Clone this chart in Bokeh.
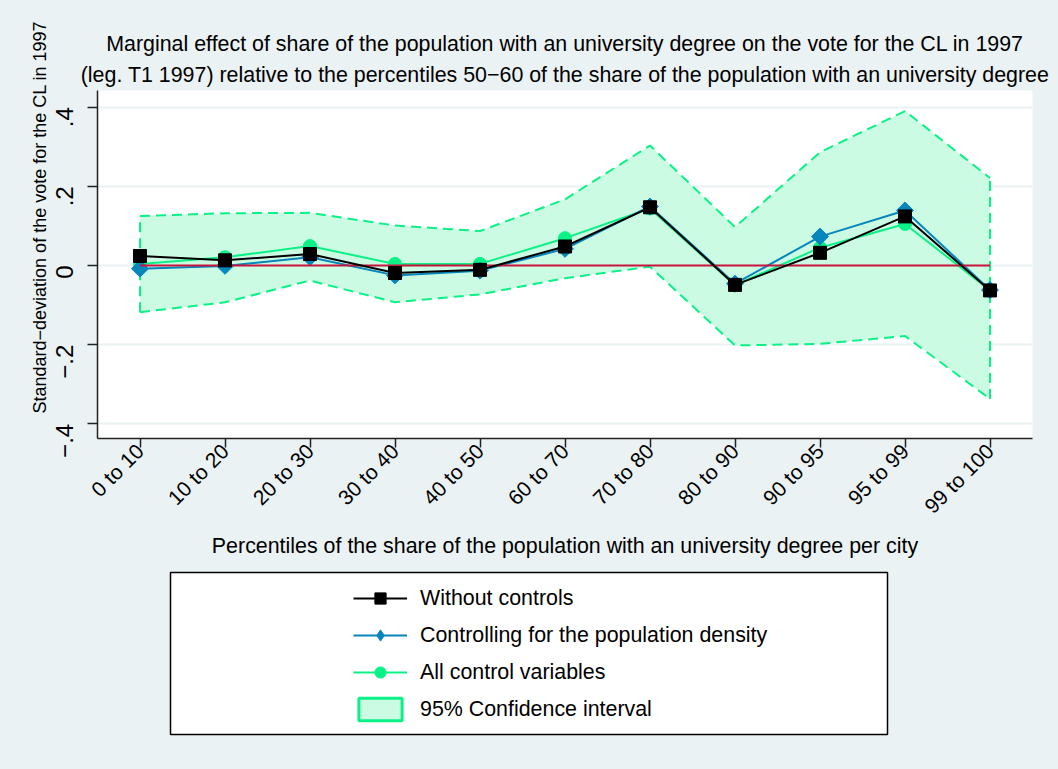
import numpy as np
from bokeh.plotting import figure
from bokeh.models import ColumnDataSource, FixedTicker, Legend, LegendItem, Title
from bokeh.layouts import column
from bokeh.embed import file_html
from bokeh.resources import INLINE

# ---------------- data ----------------
categories = ["0 to 10", "10 to 20", "20 to 30", "30 to 40", "40 to 50", "60 to 70",
              "70 to 80", "80 to 90", "90 to 95", "95 to 99", "99 to 100"]
without_controls = [0.024, 0.013, 0.029, -0.019, -0.011, 0.048, 0.147, -0.049, 0.032, 0.124, -0.063]
density_control = [-0.008, -0.001, 0.021, -0.025, -0.013, 0.042, 0.149, -0.046, 0.073, 0.139, -0.062]
all_controls = [0.004, 0.021, 0.049, 0.004, 0.004, 0.069, 0.144, -0.050, 0.045, 0.105, -0.063]
ci_upper = [0.125, 0.132, 0.133, 0.101, 0.087, 0.167, 0.303, 0.097, 0.286, 0.390, 0.221]
ci_lower = [-0.118, -0.093, -0.038, -0.093, -0.073, -0.032, -0.003, -0.202, -0.198, -0.178, -0.337]
y_ticks = [-0.4, -0.2, 0.0, 0.2, 0.4]
y_tick_labels = ["\u2212.4", "\u2212.2", "0", ".2", ".4"]
reference_value = 0.0

title_line1 = "Marginal effect of share of the population with an university degree on the vote for the CL in 1997"
title_line2 = "(leg. T1 1997) relative to the percentiles 50\u221260 of the share of the population with an university degree"
x_label = "Percentiles of the share of the population with an university degree per city"
y_label = "Standard\u2212deviation of the vote for the CL in 1997"
legend_labels = ["Without controls", "Controlling for the population density",
                 "All control variables", "95% Confidence interval"]

# ---------------- styles ----------------
BG = "#EAF2F3"
FONT = "Liberation Sans"
FS = "21.4px"
C_BLACK = "#000000"
C_BLUE = "#0786BC"
C_GREEN = "#0AF286"
C_FILL = "#CCFBE3"
C_RED = "#C8143C"

x = list(range(1, len(categories) + 1))
src = ColumnDataSource(dict(x=x, wc=without_controls, dc=density_control, ac=all_controls,
                            up=ci_upper, lo=ci_lower))
ref_src = ColumnDataSource(dict(x=[x[0], x[-1]], y=[reference_value, reference_value]))

p = figure(width=1058, height=560, x_range=(0.5, 11.5), y_range=(-0.437, 0.442),
           output_backend="svg", toolbar_location=None,
           min_border_left=97, min_border_right=26, min_border_top=90, min_border_bottom=122)
p.frame_align = False
p.background_fill_color = "white"
p.border_fill_color = BG
p.outline_line_color = None

p.title.text = title_line1
p.title.align = "center"
p.title.text_font = FONT
p.title.text_font_size = FS
p.title.text_font_style = "normal"
p.title.text_color = "black"
p.title.standoff = 2
t2 = Title(text=title_line2, align="center", text_font=FONT, text_font_size=FS,
           text_font_style="normal", text_color="black", standoff=8)
p.add_layout(t2, "above")

# CI band
p.varea(x="x", y1="lo", y2="up", source=src, fill_color=C_FILL)
p.line(x="x", y="up", source=src, line_color=C_GREEN, line_width=2, line_dash="10 6")
p.line(x="x", y="lo", source=src, line_color=C_GREEN, line_width=2, line_dash="10 6")
edge_src = ColumnDataSource(dict(xs=[[x[0], x[0]], [x[-1], x[-1]]],
                                 ys=[[ci_lower[0], ci_upper[0]], [ci_lower[-1], ci_upper[-1]]]))
p.multi_line(xs="xs", ys="ys", source=edge_src, line_color=C_GREEN, line_width=2, line_dash="10 6")

# series
p.line(x="x", y="ac", source=src, line_color=C_GREEN, line_width=2)
p.scatter(x="x", y="ac", source=src, marker="circle", size=13, fill_color=C_GREEN, line_color=C_GREEN)
p.line(x="x", y="dc", source=src, line_color=C_BLUE, line_width=2)
p.scatter(x="x", y="dc", source=src, marker="square", angle=np.pi / 4, size=12,
          fill_color=C_BLUE, line_color=C_BLUE)
p.line(x="x", y="y", source=ref_src, line_color=C_RED, line_width=2)
p.line(x="x", y="wc", source=src, line_color=C_BLACK, line_width=2)
p.scatter(x="x", y="wc", source=src, marker="square", size=13, fill_color=C_BLACK, line_color=C_BLACK)

# axes
p.xaxis.ticker = FixedTicker(ticks=x)
p.xaxis.major_label_overrides = {int(i): c for i, c in zip(x, categories)}
p.xaxis.major_label_orientation = np.pi / 4
p.xaxis.axis_label = x_label
p.yaxis.ticker = FixedTicker(ticks=y_ticks)
p.yaxis.major_label_overrides = {t: l for t, l in zip(y_ticks, y_tick_labels)}
p.yaxis.major_label_orientation = np.pi / 2
for ax in (p.xaxis, p.yaxis):
    ax.axis_line_color = "#222222"
    ax.axis_line_width = 1.5
    ax.major_tick_line_color = "#222222"
    ax.major_tick_line_width = 1.5
    ax.major_tick_out = 10
    ax.major_tick_in = 0
    ax.minor_tick_line_color = None
    ax.major_label_text_font = FONT
    ax.major_label_text_color = "black"
    ax.axis_label_text_font = FONT
    ax.axis_label_text_font_style = "normal"
    ax.axis_label_text_font_size = FS
    ax.axis_label_text_color = "black"
p.xaxis.major_tick_out = 9
p.xaxis.major_label_text_font_size = "21px"
p.yaxis.major_label_text_font_size = "24px"
p.xaxis.major_label_standoff = 0
p.xaxis.axis_label_standoff = 5
p.yaxis.major_label_standoff = 23

p.xgrid.visible = False
p.ygrid.grid_line_color = BG
p.ygrid.grid_line_width = 2

ylab = Title(text=y_label, align="left", offset=25, text_font=FONT, text_font_size="18px",
             text_font_style="normal", text_color="black", standoff=-10)
p.add_layout(ylab, "left")

# ---------------- legend panel ----------------
q = figure(width=1058, height=209, x_range=(0, 1), y_range=(0, 1), output_backend="svg",
           toolbar_location=None, x_axis_location=None, y_axis_location=None,
           min_border_left=170, min_border_right=171, min_border_top=12, min_border_bottom=35)
q.frame_align = False
q.grid.visible = False
q.background_fill_color = "white"
q.border_fill_color = BG
q.outline_line_color = "black"
q.outline_line_width = 1.5

l1 = q.line(x="x", y="wc", source=src, line_color=C_BLACK, line_width=2, visible=False)
m1 = q.scatter(x="x", y="wc", source=src, marker="square", size=13, fill_color=C_BLACK,
               line_color=C_BLACK, visible=False)
l2 = q.line(x="x", y="dc", source=src, line_color=C_BLUE, line_width=2, visible=False)
m2 = q.scatter(x="x", y="dc", source=src, marker="diamond", size=12,
               fill_color=C_BLUE, line_color=C_BLUE, visible=False)
l3 = q.line(x="x", y="ac", source=src, line_color=C_GREEN, line_width=2, visible=False)
m3 = q.scatter(x="x", y="ac", source=src, marker="circle", size=13, fill_color=C_GREEN,
               line_color=C_GREEN, visible=False)
b4 = q.quad(left="x", right="x", bottom="lo", top="up", source=src, fill_color=C_FILL,
            line_color=C_GREEN, line_width=3, visible=False)

legend = Legend(items=[LegendItem(label=legend_labels[0], renderers=[l1, m1]),
                       LegendItem(label=legend_labels[1], renderers=[l2, m2]),
                       LegendItem(label=legend_labels[2], renderers=[l3, m3]),
                       LegendItem(label=legend_labels[3], renderers=[b4])],
                location=(172, 0), padding=11, spacing=9, glyph_width=54, glyph_height=28,
                label_standoff=13, label_text_font=FONT, label_text_font_size=FS,
                label_text_color="black", background_fill_alpha=0, border_line_alpha=0,
                margin=0)
q.add_layout(legend)

layout = column(p, q, spacing=0)
html = file_html(layout, INLINE)
html = html.replace("<body>", "<body style=\"margin:0;background:%s\">" % BG)
open("out.html", "w").write(html)
